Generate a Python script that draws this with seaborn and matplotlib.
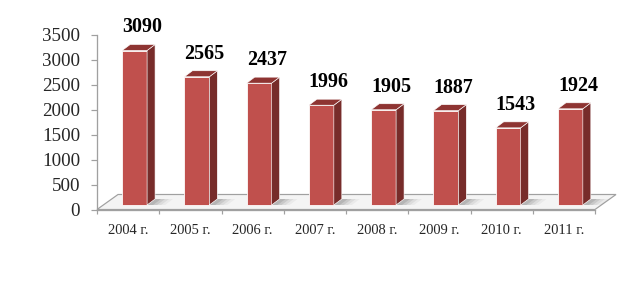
import numpy as np
import pandas as pd
import matplotlib
matplotlib.use("Agg")
import matplotlib.pyplot as plt
import seaborn as sns
from matplotlib.patches import Polygon
from matplotlib.transforms import IdentityTransform

years = ["2004 г.", "2005 г.", "2006 г.", "2007 г.", "2008 г.", "2009 г.", "2010 г.", "2011 г."]
values = [3090, 2565, 2437, 1996, 1905, 1887, 1543, 1924]
yticks = [0, 500, 1000, 1500, 2000, 2500, 3000, 3500]

FRONT = "#C0504D"
SIDE = "#772C2A"
TOP = "#8E3432"
AXIS = "#A0A0A0"

sns.set_theme(style="white")
plt.rcParams["font.family"] = ["Liberation Serif", "DejaVu Serif"]

DPI = 72
W, H = 644, 297
fig = plt.figure(figsize=(W / DPI, H / DPI), dpi=DPI)
fig.patch.set_facecolor("white")

left_px, right_px, zero_px, top_px = 97, 595, 209.5, 34.5
ax = fig.add_axes([left_px / W, (H - zero_px) / H, (right_px - left_px) / W, (zero_px - top_px) / H])
ax.set_facecolor("none")

df = pd.DataFrame({"year": years, "value": values})
sns.barplot(data=df, x="year", y="value", color=FRONT, width=0.4, saturation=1,
            edgecolor="white", linewidth=0.8, ax=ax, zorder=3)
ax.set_xlim(-0.5, len(years) - 0.5)
ax.set_ylim(0, 3500)
ax.set_yticks(yticks)
ax.set_yticklabels([str(v) for v in yticks], fontsize=19)
ax.set_xticks(range(len(years)))
ax.set_xticklabels(years, fontsize=14.5)
ax.set_xticks(np.arange(-0.5, len(years)), minor=True)
ax.set_xlabel("")
ax.set_ylabel("")
for s in ["top", "right"]:
    ax.spines[s].set_visible(False)
for s in ["left", "bottom"]:
    ax.spines[s].set_color(AXIS)
    ax.spines[s].set_linewidth(1.3)
ax.tick_params(axis="y", which="major", direction="out", length=6, width=1.2, color=AXIS, pad=11, left=True)
ax.tick_params(axis="x", which="major", length=0, pad=14)
ax.tick_params(axis="x", which="minor", direction="out", length=4, width=1.2, color=AXIS, bottom=True)

fig.canvas.draw()

def disp(xd, yd):
    return ax.transData.transform((xd, yd))

fdx, fdy = 21, 15
(x0, y0) = disp(-0.5, 0)
(x1, _) = disp(len(years) - 0.5, 0)
floor = Polygon([(x0, y0), (x1, y0), (x1 + fdx, y0 + fdy), (x0 + fdx, y0 + fdy)],
                closed=True, facecolor="#F4F4F4", edgecolor=AXIS, linewidth=1.2,
                transform=IdentityTransform(), zorder=1, clip_on=False)
fig.add_artist(floor)

bdx, bdy = 6.5, 4.5
ddx, ddy = 8, 6
for p, v in zip(ax.patches, values):
    xa = p.get_x()
    xb = xa + p.get_width()
    (pa, pb) = disp(xa, 0)
    (pc, pt) = disp(xb, v)
    pa += bdx; pc += bdx; pb += bdy; pt += bdy
    for k, a in enumerate([0.10, 0.08, 0.06, 0.04]):
        sh = Polygon([(pc, pb), (pc + 6 + 4 * k, pb), (pc + 6 + 4 * k + ddx, pb + ddy), (pc + ddx, pb + ddy)],
                     closed=True, facecolor="black", alpha=a, edgecolor="none",
                     transform=IdentityTransform(), zorder=2, clip_on=False)
        fig.add_artist(sh)
    front = Polygon([(pa, pb), (pc, pb), (pc, pt), (pa, pt)], closed=True, facecolor=FRONT,
                    edgecolor="white", linewidth=0.8, transform=IdentityTransform(), zorder=4, clip_on=False)
    side = Polygon([(pc, pb), (pc + ddx, pb + ddy), (pc + ddx, pt + ddy), (pc, pt)], closed=True,
                   facecolor=SIDE, edgecolor="white", linewidth=0.6, transform=IdentityTransform(),
                   zorder=4, clip_on=False)
    top = Polygon([(pa, pt), (pc, pt), (pc + ddx, pt + ddy), (pa + ddx, pt + ddy)], closed=True,
                  facecolor=TOP, edgecolor="white", linewidth=0.6, transform=IdentityTransform(),
                  zorder=4, clip_on=False)
    for art in (front, side, top):
        fig.add_artist(art)
    p.set_visible(False)
    fig.text(((pa + pc) / 2 + 7.5) / W, (pt + 18) / H, str(v), ha="center", va="baseline",
             fontsize=20, fontweight="bold", color="black")

fig.savefig("out.png", dpi=DPI, facecolor="white")
